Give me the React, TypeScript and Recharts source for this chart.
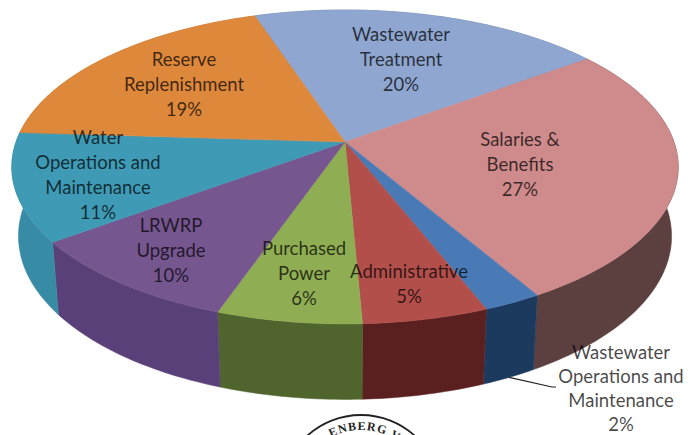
import { Customized, Pie, PieChart } from 'recharts';

const names = [
  'Wastewater Treatment',
  'Salaries & Benefits',
  'Wastewater Operations and Maintenance',
  'Administrative',
  'Purchased Power',
  'LRWRP Upgrade',
  'Water Operations and Maintenance',
  'Reserve Replenishment',
];
// the printed percents are these rounded
const values = [20, 26.7, 2.45, 5.25, 6.05, 9.55, 11.1, 18.9];
const topColors = ['#8fa7d0', '#cf8b8b', '#4a7ab6', '#b34f4b', '#8fad52', '#75568f', '#3f9ab5', '#de883c'];
const wallColors = ['#5f7390', '#5c4040', '#1b3a5e', '#5a201f', '#50652e', '#5a4078', '#388ba5', '#a8642a'];
const labelLines = [
  ['Wastewater', 'Treatment', '20%'],
  ['Salaries &', 'Benefits', '27%'],
  ['Wastewater', 'Operations and', 'Maintenance', '2%'],
  ['Administrative', '5%'],
  ['Purchased', 'Power', '6%'],
  ['LRWRP', 'Upgrade', '10%'],
  ['Water', 'Operations and', 'Maintenance', '11%'],
  ['Reserve', 'Replenishment', '19%'],
];

const rows = names.map((name, i) => ({
  name,
  value: values[i],
  wall: wallColors[i],
  fill: topColors[i],
}));

// label centres in chart pixels (first line baseline)
const labelSpots = [
  [401, 41],
  [520, 146],
  [621, 359],
  [409, 278],
  [304, 255],
  [171, 232],
  [98, 144],
  [184, 66],
];

const CX = 345;
const CY = 142;
const RADIUS = 329;
const SQUASH = 153 / 329;
const TILT = 0.159;
const DEPTH = 68;
const RAD = Math.PI / 180;

// pie angle -> point on the tilted rim, perspective around the apex
function rim(cx: number, cy: number, r: number, deg: number, lower = false) {
  const u = Math.cos(deg * RAD);
  const v = Math.sin(deg * RAD);
  const w = 1 + TILT * v;
  const shrink = lower ? 0.98 : 1;
  const drop = lower ? DEPTH * (1 - 0.11 * v) : 0;
  return {
    x: cx + ((r * u) / w) * shrink,
    y: cy - (r * SQUASH * v) / w + drop,
  };
}

function arcPoints(p: any, lower = false) {
  const pts = [];
  const steps = Math.max(2, Math.ceil(Math.abs(p.endAngle - p.startAngle)));
  for (let i = 0; i <= steps; i++) {
    const deg = p.startAngle + ((p.endAngle - p.startAngle) * i) / steps;
    pts.push(rim(p.cx, p.cy, p.outerRadius, deg, lower));
  }
  return pts;
}

const toPath = (pts: { x: number; y: number }[]) =>
  pts.map((q, i) => `${i ? 'L' : 'M'}${q.x.toFixed(1)},${q.y.toFixed(1)}`).join(' ');

function TopSlice(p: any) {
  const d = `M${p.cx},${p.cy} ` + toPath(arcPoints(p)).replace('M', 'L') + ' Z';
  return <path d={d} fill={p.fill} stroke={p.fill} strokeWidth={0.5} />;
}

function WallSlice(p: any) {
  const upper = arcPoints(p);
  const lower = arcPoints(p, true).reverse();
  return <path d={toPath([...upper, ...lower]) + ' Z'} fill={p.wall} stroke={p.wall} strokeWidth={0.5} />;
}

function SliceLabel(p: any) {
  const lines = labelLines[p.index];
  const [x, y] = labelSpots[p.index];
  const leader = p.index === 2 ? rim(p.cx, p.cy, p.outerRadius, p.midAngle, true) : null;
  const gap = p.index === 2 ? 24 : 25;
  return (
    <g>
      {leader && (
        <polyline
          points={`${leader.x},${leader.y} 552,387 556,387`}
          fill="none"
          stroke="#222"
          strokeWidth={1.2}
        />
      )}
      <text textAnchor="middle" fontFamily="Lato, sans-serif" fontSize={18.5} fill="#000" fillOpacity={0.72}>
        {lines.map((line, i) => (
          <tspan key={i} x={x} y={y + i * gap}>
            {line}
          </tspan>
        ))}
      </text>
    </g>
  );
}

function Seal() {
  return (
    <g fill="none" stroke="#222">
      <circle cx={361} cy={495} r={80} strokeWidth={1.8} />
      <path id="sealArc" d="M305,462 A65,65 0 0 1 417,462" stroke="none" />
      <text
        fontFamily="Liberation Serif, serif"
        fontSize={12}
        fontWeight="bold"
        fill="#222"
        stroke="none"
        textAnchor="middle"
        letterSpacing={1}
      >
        <textPath href="#sealArc" startOffset="55%">
          ENBERG VI
        </textPath>
      </text>
    </g>
  );
}

export default function App() {
  return (
    <div style={{ position: 'absolute', left: 0, top: 0, width: 688, height: 435, background: '#fff' }}>
      <PieChart width={688} height={435} margin={{ top: 0, right: 0, bottom: 0, left: 0 }}>
        <Pie
          data={rows}
          dataKey="value"
          cx={CX}
          cy={CY}
          outerRadius={RADIUS}
          startAngle={108.4}
          endAngle={-251.6}
          stroke="none"
          shape={WallSlice}
          isAnimationActive={false}
        />
        <Pie
          data={rows}
          dataKey="value"
          cx={CX}
          cy={CY}
          outerRadius={RADIUS}
          startAngle={108.4}
          endAngle={-251.6}
          stroke="none"
          shape={TopSlice}
          label={SliceLabel}
          labelLine={false}
          isAnimationActive={false}
        />
        <Customized component={Seal} />
      </PieChart>
    </div>
  );
}
